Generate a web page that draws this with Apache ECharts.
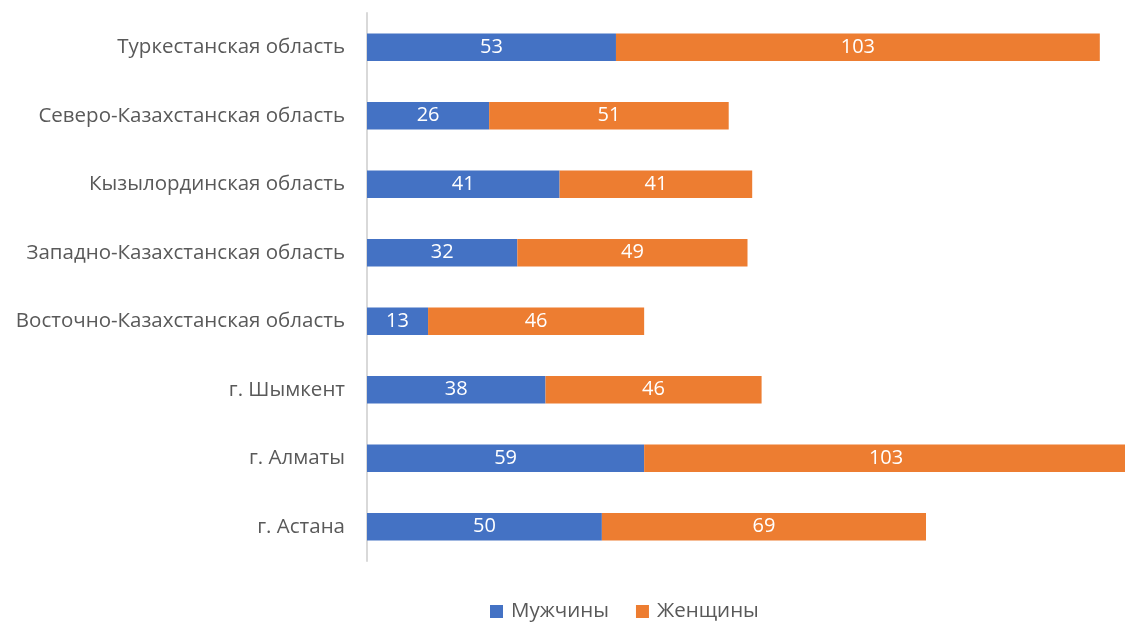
<!DOCTYPE html>
<html>
<head>
<meta charset="utf-8">
<script src="https://cdn.jsdelivr.net/npm/echarts@6/dist/echarts.min.js"></script>
<style>
  html, body { margin: 0; padding: 0; background: #fff; }
  #chart { width: 1125px; height: 623px; }
</style>
</head>
<body>
<div id="chart"></div>
<script>
// категории снизу вверх (ECharts рисует первую категорию внизу)
const regions = [
  'г. Астана',
  'г. Алматы',
  'г. Шымкент',
  'Восточно-Казахстанская область',
  'Западно-Казахстанская область',
  'Кызылординская область',
  'Северо-Казахстанская область',
  'Туркестанская область'
]
const men = [50, 59, 38, 13, 32, 41, 26, 53]
const women = [69, 103, 46, 46, 49, 41, 51, 103]

const font = 'Open Sans'

const chart = echarts.init(document.getElementById('chart'))

const label = {
  show: true,
  position: 'inside',
  color: '#fff',
  fontSize: 20,
  fontFamily: font
}

chart.setOption({
  animation: false,
  grid: {
    left: 367, width: 761, top: 13, bottom: 62,
    containLabel: false,
    outerBoundsMode: 'none'
  },
  legend: {
    top: 601,
    left: 490,
    padding: 0,
    itemWidth: 13,
    itemHeight: 13,
    itemGap: 27,
    icon: 'rect',
    textStyle: { color: '#595959', fontSize: 20.5, fontFamily: font, padding: [0, 0, 0, 3] },
    data: ['Мужчины', 'Женщины']
  },
  xAxis: {
    type: 'value',
    min: 0,
    max: 162,
    show: false
  },
  yAxis: {
    type: 'category',
    data: regions,
    axisLine: { show: true, lineStyle: { color: '#d9d9d9', width: 2 } },
    axisTick: { show: false },
    axisLabel: { color: '#595959', fontSize: 20.5, fontFamily: font, margin: 22 }
  },
  series: [
    {
      name: 'Мужчины',
      type: 'bar',
      stack: 'total',
      barWidth: '40%',
      itemStyle: { color: '#4472c4' },
      label: label,
      data: men
    },
    {
      name: 'Женщины',
      type: 'bar',
      stack: 'total',
      barWidth: '40%',
      itemStyle: { color: '#ed7d31' },
      label: label,
      data: women
    }
  ]
})
</script>
</body>
</html>
